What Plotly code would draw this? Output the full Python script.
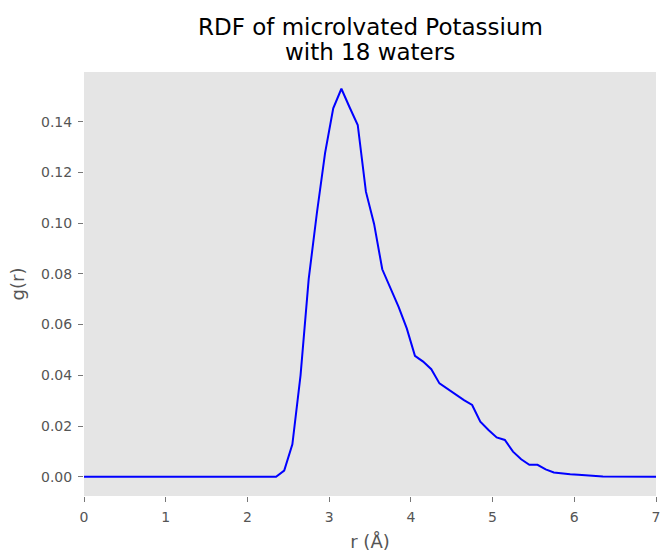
import plotly.graph_objects as go

r_vals = [0.0, 2.35, 2.45, 2.55, 2.65, 2.75, 2.85, 2.95, 3.05, 3.15, 3.25, 3.35,
          3.45, 3.55, 3.65, 3.75, 3.85, 3.95, 4.05, 4.15, 4.25, 4.35, 4.45, 4.55,
          4.65, 4.75, 4.85, 4.95, 5.05, 5.15, 5.25, 5.35, 5.45, 5.55, 5.65, 5.75,
          5.85, 5.95, 6.05, 6.15, 6.25, 6.35, 7.0]
g_vals = [0.0, 0.0, 0.0024, 0.0128, 0.040, 0.078, 0.104, 0.1276, 0.1453, 0.1530,
          0.1457, 0.1387, 0.1124, 0.0997, 0.0818, 0.0743, 0.0670, 0.0585, 0.0477,
          0.0454, 0.0424, 0.0368, 0.0345, 0.0322, 0.0302, 0.0283, 0.0217, 0.0184,
          0.0155, 0.0145, 0.0099, 0.0069, 0.0047, 0.0047, 0.0029, 0.0017, 0.0012,
          0.0010, 0.0008, 0.0006, 0.0004, 0.0001, 0.0]

x_ticks = [0, 1, 2, 3, 4, 5, 6, 7]
y_ticks = [0.00, 0.02, 0.04, 0.06, 0.08, 0.10, 0.12, 0.14]
y_tick_text = ["0.00", "0.02", "0.04", "0.06", "0.08", "0.10", "0.12", "0.14"]
title_lines = ["RDF of microlvated Potassium", "with 18 waters"]

fig = go.Figure()
fig.add_trace(go.Scatter(x=r_vals, y=g_vals, mode="lines",
                         line=dict(color="blue", width=2), showlegend=False))

font_family = "DejaVu Sans"
W, H = 662, 552
L, R, T, B = 84, 6, 72, 56
plot_h = H - T - B

fig.update_layout(
    width=W, height=H,
    margin=dict(l=L, r=R, t=T, b=B, autoexpand=False),
    paper_bgcolor="white",
    plot_bgcolor="#E5E5E5",
    font=dict(family=font_family, color="#555555"),
)
for line_text, fy in zip(title_lines, [27, 52]):
    fig.add_annotation(text=line_text, xref="paper", yref="paper",
                       x=0.5, y=1 + (T - fy) / plot_h, xanchor="center", yanchor="middle",
                       showarrow=False, font=dict(size=23, color="black", family=font_family))

fig.update_xaxes(range=[0, 7], tickvals=x_ticks, showgrid=False, zeroline=False,
                 showline=False, ticks="outside", ticklen=5, tickcolor="#777777",
                 automargin=False, ticklabelstandoff=3, ticklabeloverflow="allow",
                 tickfont=dict(size=14, color="#555555"),
                 title=dict(text="r (Å)", font=dict(size=18, color="#555555"), standoff=14))
fig.update_yaxes(range=[-0.0076, 0.1596], tickvals=y_ticks, ticktext=y_tick_text,
                 showgrid=False, zeroline=False, showline=False, ticks="outside",
                 ticklen=5, tickcolor="#777777", automargin=False, ticklabelstandoff=3,
                 ticklabeloverflow="allow",
                 tickfont=dict(size=14, color="#555555"),
                 title=dict(text="g(r)", font=dict(size=18, color="#555555"), standoff=11))

fig.write_html("out.html",
               config={"displayModeBar": False},
               post_script="document.body.style.margin='0';document.body.style.overflow='hidden';")
